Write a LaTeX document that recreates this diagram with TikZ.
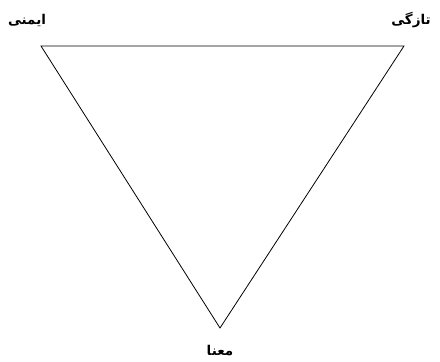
\documentclass[tikz,border=0pt]{standalone}
\usepackage{fontspec}
\TeXXeTstate=1
\newfontfamily\arabicfont[Script=Arabic]{DejaVu Sans}
\begin{document}
\begin{tikzpicture}[x=1pt,y=1pt,
  lbl/.style={font=\arabicfont\bfseries\fontsize{13.5}{16}\selectfont, inner sep=0pt}]
\useasboundingbox (0,0) rectangle (440,362);
\coordinate (A) at (41,316);
\coordinate (B) at (404,316);
\coordinate (C) at (220,34);
\draw[line width=0.8pt, line join=miter] (A) -- (B) -- (C) -- cycle;
\node[lbl] (la) at (27,342) {\beginR ایمنی\endR};
\node[lbl] (lb) at (411,342) {\beginR تازگی\endR};
\node[lbl] (lc) at (220,11) {\beginR معنا\endR};
\end{tikzpicture}
\end{document}
